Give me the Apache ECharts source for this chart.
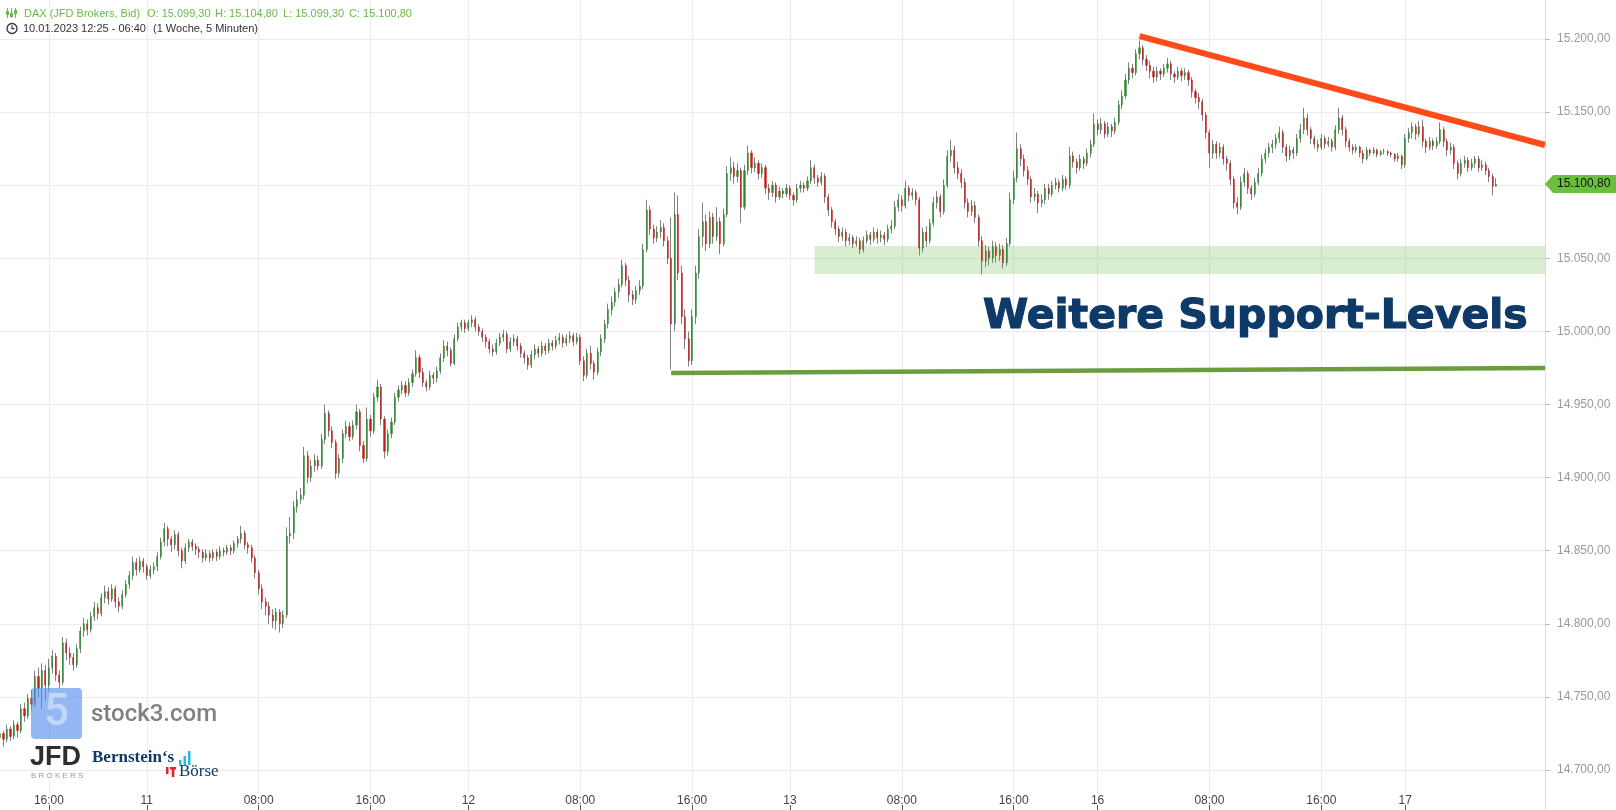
<!DOCTYPE html>
<html><head><meta charset="utf-8">
<script src="https://cdn.jsdelivr.net/npm/echarts@6/dist/echarts.min.js"></script>
<style>html,body{margin:0;padding:0;background:#fff}#c{width:1616px;height:810px}</style>
</head><body><div id="c"></div>
<script>
// ---- DATA (15-minute candles [open, close, low, high]) ----
const day10 = [
[14722,14725,14718,14728],[14725,14721,14716,14727],[14721,14728,14719,14731],[14728,14723,14720,14730],[14723,14731,14721,14734],
[14731,14727,14722,14733],[14727,14742,14725,14745],[14742,14737,14733,14746],[14737,14749,14735,14752],[14749,14745,14741,14755],
[14745,14764,14743,14768],[14764,14756,14750,14770],[14756,14768,14742,14773],[14768,14758,14748,14772],[14758,14770,14754,14776],
[14770,14778,14766,14782],[14778,14765,14761,14780],[14765,14760,14756,14768],[14760,14787,14758,14791],[14787,14780,14775,14790],
[14780,14777,14772,14784],[14777,14772,14768,14780],[14772,14783,14770,14786],[14783,14795,14780,14798],[14795,14800,14791,14804],
[14800,14796,14792,14803],[14796,14805,14794,14808],[14805,14811,14802,14815],[14811,14807,14803,14814],[14807,14818,14805,14821],
[14818,14822,14814,14826],[14822,14817,14813,14825],[14817,14824,14815,14827],[14824,14815,14811,14826],[14815,14812,14808,14818],
[14812,14820,14810,14823],[14820,14827,14818,14830],[14827,14833,14824,14836],[14833,14842,14830,14846],[14842,14837,14833,14845],
[14837,14843,14835,14846],[14843,14839,14835,14845]
];
const day11 = [
[14839,14833,14830,14841],[14833,14837,14831,14840],[14837,14839,14834,14842],[14839,14846,14836,14849],[14846,14856,14844,14859],
[14856,14865,14853,14869],[14865,14858,14853,14867],[14858,14854,14849,14860],[14854,14861,14851,14864],[14861,14850,14846,14863],
[14850,14843,14838,14852],[14843,14852,14841,14855],[14852,14856,14849,14858],[14856,14853,14850,14858],[14853,14851,14847,14855],
[14851,14849,14845,14853],[14849,14845,14842,14851],[14845,14848,14843,14851],[14848,14845,14842,14850],[14845,14849,14843,14851],
[14849,14846,14843,14851],[14846,14850,14844,14853],[14850,14849,14846,14852],[14849,14852,14847,14854],[14852,14850,14847,14854],
[14850,14855,14848,14857],[14855,14858,14852,14860],[14858,14862,14855,14867],[14862,14854,14851,14864],[14854,14852,14848,14856],
[14852,14845,14842,14854],[14845,14835,14831,14847],[14835,14824,14820,14837],[14824,14815,14810,14827],[14815,14812,14806,14818],
[14812,14806,14800,14815],[14806,14802,14797,14810],[14802,14808,14796,14811],[14808,14800,14794,14810],[14800,14806,14797,14809],
[14806,14860,14804,14866],[14860,14862,14855,14873],[14862,14880,14858,14884],[14880,14885,14876,14891],[14885,14888,14882,14893],
[14888,14915,14885,14921],[14915,14900,14896,14918],[14900,14908,14897,14912],[14908,14912,14904,14916],[14912,14908,14905,14915],
[14908,14926,14906,14930],[14926,14944,14923,14950],[14944,14932,14928,14946],[14932,14924,14920,14935],[14924,14903,14899,14926],
[14903,14913,14900,14916],[14913,14930,14910,14933],[14930,14935,14927,14939],[14935,14928,14925,14938],[14928,14936,14926,14939],
[14936,14945,14933,14950],[14945,14922,14918,14947],[14922,14913,14910,14925],[14913,14940,14911,14948],[14940,14932,14928,14943],
[14932,14955,14930,14958],[14955,14962,14952,14967],[14962,14940,14936,14964],[14940,14918,14913,14942],[14918,14930,14915,14933],
[14930,14938,14927,14941],[14938,14955,14936,14958],[14955,14960,14952,14963],[14960,14963,14957,14966],[14963,14958,14955,14966],
[14958,14965,14956,14968],[14965,14971,14962,14974],[14971,14982,14969,14987],[14982,14972,14968,14984],[14972,14965,14962,14975],
[14965,14962,14959,14967],[14962,14970,14960,14973],[14970,14968,14964,14972],[14968,14973,14965,14976],[14973,14982,14971,14985],
[14982,14990,14979,14994],[14990,14987,14983,14993],[14987,14978,14976,14989],[14978,14995,14977,14998],[14995,15003,14993,15006],
[15003,15006,15000,15008],[15006,15002,14999,15008]
];
const day12 = [
[15002,15006,15000,15008],[15006,15008,15003,15011],[15008,15003,15000,15010],[15003,15000,14997,15005],[15000,14996,14993,15002],
[14996,14993,14989,14998],[14993,14988,14985,14995],[14988,14986,14983,14991],[14986,14992,14984,14995],[14992,14996,14990,14999],
[14996,14998,14993,15001],[14998,14988,14985,15000],[14988,14993,14986,14996],[14993,14995,14990,14998],[14995,14990,14987,14997],
[14990,14985,14982,14992],[14985,14982,14978,14987],[14982,14977,14974,14984],[14977,14984,14975,14987],[14984,14988,14981,14991],
[14988,14985,14982,14990],[14985,14990,14983,14993],[14990,14987,14984,14992],[14987,14992,14985,14995],[14992,14990,14987,14994],
[14990,14994,14988,14997],[14994,14996,14991,14999],[14996,14992,14989,14998],[14992,14995,14990,14998],[14995,14997,14992,15000],
[14997,14993,14990,14999],[14993,14996,14991,14999],[14996,14980,14977,14998],[14980,14970,14966,14983],[14970,14985,14968,14988],
[14985,14978,14974,14990],[14978,14972,14967,14980],[14972,14986,14970,14989],[14986,14995,14983,14998],[14995,15005,14992,15008],
[15005,15015,15002,15019],[15015,15020,15011,15024],[15020,15027,15017,15030],[15027,15032,15023,15036],[15032,15045,15030,15049],
[15045,15035,15031,15047],[15035,15025,15020,15038],[15025,15022,15018,15028],[15022,15028,15019,15031],[15028,15031,15025,15035],
[15031,15056,15029,15060],[15056,15083,15054,15090],[15083,15070,15066,15086],[15070,15064,15060,15073],[15064,15068,15061,15072],
[15068,15071,15064,15076],[15071,15062,15058,15074],[15062,15050,15046,15065],[15050,15005,14974,15078],[15005,15080,15000,15095],
[15080,15040,15035,15093],[15040,15010,15005,15045],[15010,14995,14988,15015],[14995,14980,14976,15000],[14980,15010,14977,15015],
[15010,15040,15005,15045],[15040,15065,15036,15070],[15065,15075,15058,15088],[15075,15060,15055,15080],[15060,15078,15057,15082],
[15078,15065,15060,15081],[15065,15075,15062,15085],[15075,15060,15053,15078],[15060,15080,15058,15084],[15080,15108,15078,15113],
[15108,15112,15103,15119],[15112,15106,15101,15116],[15106,15110,15102,15115],[15110,15085,15074,15112],[15085,15110,15083,15114],
[15110,15122,15107,15127],[15122,15112,15108,15124],[15112,15115,15109,15119],[15115,15108,15104,15117],[15108,15112,15105,15115],
[15112,15098,15094,15114],[15098,15095,15090,15101],[15095,15100,15092,15103],[15100,15092,15088,15102],[15092,15096,15090,15099],
[15096,15094,15091,15098],[15094,15098,15092,15101]
];
const day13 = [
[15098,15093,15090,15100],[15093,15090,15086,15095],[15090,15098,15088,15101],[15098,15100,15095,15103],[15100,15098,15095,15102],
[15098,15103,15096,15106],[15103,15112,15101,15117],[15112,15105,15101,15114],[15105,15102,15099,15107],[15102,15106,15100,15109],
[15106,15092,15088,15108],[15092,15083,15079,15094],[15083,15075,15071,15085],[15075,15070,15066,15077],[15070,15065,15061,15072],
[15065,15068,15062,15071],[15068,15062,15058,15070],[15062,15064,15059,15067],[15064,15060,15057,15066],[15060,15062,15058,15065],
[15062,15056,15053,15064],[15056,15062,15054,15065],[15062,15066,15060,15069],[15066,15063,15059,15068],[15063,15068,15061,15071],
[15068,15064,15060,15070],[15064,15066,15061,15069],[15066,15063,15059,15068],[15063,15070,15061,15073],[15070,15072,15067,15076],
[15072,15085,15070,15089],[15085,15090,15082,15094],[15090,15086,15082,15093],[15086,15098,15084,15103],[15098,15093,15089,15100],
[15093,15095,15090,15098],[15095,15090,15086,15097],[15090,15057,15052,15092],[15057,15068,15054,15071],[15068,15062,15058,15072],
[15062,15074,15060,15077],[15074,15088,15072,15092],[15088,15092,15084,15096],[15092,15082,15078,15094],[15082,15100,15080,15104],
[15100,15120,15098,15124],[15120,15124,15116,15131],[15124,15112,15108,15127],[15112,15108,15104,15116],[15108,15102,15098,15111],
[15102,15088,15084,15105],[15088,15082,15078,15091],[15082,15086,15079,15090],[15086,15078,15074,15089],[15078,15062,15058,15080],
[15062,15048,15039,15065],[15048,15055,15044,15059],[15055,15050,15045,15058],[15050,15058,15047,15062],[15058,15052,15047,15061],
[15052,15056,15048,15060],[15056,15047,15043,15059],[15047,15060,15045,15064],[15060,15090,15058,15095],[15090,15105,15087,15110],
[15105,15125,15102,15136],[15125,15118,15113,15128],[15118,15110,15106,15121],[15110,15104,15100,15113],[15104,15092,15088,15106],
[15092,15094,15089,15098],[15094,15088,15081,15096],[15088,15090,15085,15094],[15090,15098,15087,15101],[15098,15094,15090,15101],
[15094,15100,15092,15103],[15100,15102,15097,15105],[15102,15098,15095,15104],[15098,15104,15096,15107],[15104,15100,15097,15106],
[15100,15120,15098,15126],[15120,15116,15112,15123],[15116,15112,15108,15118],[15112,15118,15110,15121],[15118,15115,15111,15120],
[15115,15122,15113,15125],[15122,15128,15119,15131],[15128,15142,15126,15149]
];
const day16 = [
[15142,15138,15134,15145],[15138,15142,15135,15146],[15142,15135,15132,15144],[15135,15140,15133,15143],[15140,15137,15133,15142],
[15137,15143,15135,15146],[15143,15155,15141,15158],[15155,15161,15152,15165],[15161,15172,15159,15176],[15172,15180,15169,15184],
[15180,15177,15173,15183],[15177,15190,15175,15193],[15190,15194,15186,15199],[15194,15186,15182,15196],[15186,15182,15178,15189],
[15182,15178,15173,15185],[15178,15174,15170,15181],[15174,15178,15171,15181],[15178,15176,15172,15180],[15176,15180,15174,15183],
[15180,15183,15177,15187],[15183,15176,15172,15185],[15176,15174,15170,15178],[15174,15178,15172,15181],[15178,15175,15171,15180],
[15175,15177,15172,15180],[15177,15172,15168,15179],[15172,15164,15160,15174],[15164,15160,15156,15166],[15160,15157,15152,15163],
[15157,15148,15144,15159],[15148,15136,15132,15150],[15136,15122,15112,15138],[15122,15128,15118,15131],[15128,15122,15118,15130],
[15122,15126,15119,15129],[15126,15118,15114,15128],[15118,15115,15110,15120],[15115,15104,15100,15117],[15104,15088,15084,15106],
[15088,15085,15080,15092],[15085,15102,15083,15106],[15102,15108,15099,15112],[15108,15098,15094,15110],[15098,15094,15090,15100],
[15094,15102,15092,15105],[15102,15108,15100,15112],[15108,15118,15106,15121],[15118,15122,15115,15125],[15122,15126,15119,15129],
[15126,15128,15122,15131],[15128,15132,15125,15135],[15132,15136,15129,15140],[15136,15126,15122,15138],[15126,15120,15116,15128],
[15120,15124,15117,15127],[15124,15122,15118,15126],[15122,15132,15120,15135],[15132,15138,15129,15142],[15138,15146,15135,15153],
[15146,15138,15134,15149],[15138,15132,15128,15140],[15132,15128,15125,15134],[15128,15126,15123,15131],[15126,15132,15124,15135],
[15132,15128,15125,15134],[15128,15130,15126,15133],[15130,15126,15123,15132],[15126,15138,15124,15141],[15138,15146,15135,15153],
[15146,15138,15134,15148],[15138,15130,15126,15140],[15130,15126,15123,15132],[15126,15124,15121,15128],[15124,15126,15122,15128],
[15126,15122,15119,15127],[15122,15118,15115,15124],[15118,15124,15117,15126],[15124,15122,15120,15125],[15122,15124,15121,15126],
[15124,15121,15119,15125],[15121,15123,15120,15124],[15123,15123,15121,15125],[15123,15122,15120,15124],[15122,15121,15119,15123],
[15121,15118,15116,15122],[15118,15120,15116,15122],[15120,15114,15111,15121]
];
const day17 = [
[15114,15132,15112,15135],[15132,15136,15129,15139],[15136,15140,15132,15143],[15140,15135,15131,15142],[15135,15140,15133,15144],
[15140,15130,15126,15145],[15130,15126,15122,15132],[15126,15130,15124,15133],[15130,15127,15124,15132],[15127,15130,15125,15133],
[15130,15138,15128,15143],[15138,15130,15126,15140],[15130,15124,15120,15132],[15124,15126,15121,15129],[15126,15115,15111,15128],
[15115,15108,15104,15117],[15108,15115,15106,15118],[15115,15117,15112,15120],[15117,15112,15109,15119],[15112,15115,15110,15118],
[15115,15118,15112,15120],[15118,15112,15109,15120],[15112,15114,15110,15117],[15114,15110,15107,15116],[15110,15106,15102,15112],
[15106,15099.3,15093,15108],[15099.3,15100.8,15099.3,15104.8]
];
// trading sessions: [date, start minute, number of 15-min slots]
const sessions = [['10.01.',750,42],['11.01.',0,92],['12.01.',0,92],['13.01.',0,88],['16.01.',0,88],['17.01.',0,41]];
const tickIdx = [14,42,74,106,134,166,198,226,258,290,314,346,378,402];
const tickLabels = ['16:00','11','08:00','16:00','12','08:00','16:00','13','08:00','16:00','16','08:00','16:00','17'];
const resistanceIdx = [326, 442], resistanceVal = [15202, 15127.5];
const supportIdx = [192, 442], supportVal = [14971.6, 14975];
const zoneIdx = [233, 442], zoneVal = [15039.3, 15058.4];
const yRange = [14684.27, 15226.68];

// ---- BUILD ----
const categories = [];
sessions.forEach(([d, st, n]) => {
  for (let k = 0; k < n; k++) {
    const m = st + 15 * k;
    categories.push(d + ' ' + String(Math.floor(m / 60)).padStart(2, '0') + ':' + String(m % 60).padStart(2, '0'));
  }
});
const candles = day10.concat(day11, day12, day13, day16, day17);
const bodies = candles.map(d => [d[0], d[1], Math.min(d[0], d[1]), Math.max(d[0], d[1])]);
const last = candles[candles.length - 1];
const fmt = v => { const s = Math.abs(v).toFixed(2).split('.'); return s[0].replace(/\B(?=(\d{3})+(?!\d))/g, '.') + ',' + s[1]; };
const isTick = i => tickIdx.indexOf(i) >= 0;
const FF = '"Liberation Sans", Arial, sans-serif';
const hdrGreen = '#6cb947';

const chart = echarts.init(document.getElementById('c'));
chart.setOption({
  animation: false,
  backgroundColor: '#ffffff',
  textStyle: { fontFamily: FF },
  grid: [{ left: 0, right: 71, top: 0, bottom: 17 }, { left: 0, right: 71, top: 805, bottom: 0 }],
  xAxis: [
    { type: 'category', gridIndex: 0, data: categories, boundaryGap: false,
      axisLine: { show: false }, axisTick: { show: false },
      axisLabel: { interval: (i) => isTick(i), formatter: (v, i) => tickLabels[tickIdx.indexOf(i)], color: '#444', fontSize: 12, margin: 2 },
      splitLine: { show: true, interval: (i) => isTick(i), lineStyle: { color: '#ebebeb', width: 1 } } },
    { type: 'category', gridIndex: 1, data: categories, boundaryGap: false,
      axisLine: { show: false }, axisLabel: { show: false }, splitLine: { show: false },
      axisTick: { show: true, inside: true, length: 5, interval: (i) => isTick(i), lineStyle: { color: '#555' } } }
  ],
  yAxis: [
    { type: 'value', gridIndex: 0, position: 'right', min: yRange[0], max: yRange[1], splitNumber: 11, minInterval: 50, maxInterval: 50,
      axisLine: { show: true, lineStyle: { color: '#dcdcdc' } },
      axisTick: { show: true, length: 5, lineStyle: { color: '#bbb' } },
      axisLabel: { color: '#999', fontSize: 12, margin: 12, formatter: fmt, showMinLabel: false, showMaxLabel: false },
      splitLine: { show: true, showMinLine: false, showMaxLine: false, lineStyle: { color: '#ebebeb' } } },
    { type: 'value', gridIndex: 1, show: false }
  ],
  series: [
    { type: 'candlestick', name: 'wicks', xAxisIndex: 0, yAxisIndex: 0, data: candles, barWidth: 1, silent: true, z: 2,
      itemStyle: { color: '#808080', color0: '#808080', borderColor: '#808080', borderColor0: '#808080', borderWidth: 1 } },
    { type: 'candlestick', name: 'DAX', xAxisIndex: 0, yAxisIndex: 0, data: bodies, barWidth: 1.6, z: 3,
      itemStyle: { color: '#2a8a2a', color0: '#c41a1a', borderColor: '#2a8a2a', borderColor0: '#c41a1a', borderWidth: 0.4 } },
    { type: 'line', name: 'support', xAxisIndex: 0, yAxisIndex: 0, symbol: 'none', z: 4,
      data: supportIdx.map((x, k) => [categories[x], supportVal[k]]),
      lineStyle: { color: '#6b9c3d', width: 4.5 },
      markArea: { silent: true, itemStyle: { color: 'rgba(120,190,90,0.28)' },
        data: [[{ xAxis: categories[zoneIdx[0]], yAxis: zoneVal[0] }, { xAxis: categories[zoneIdx[1]], yAxis: zoneVal[1] }]] } },
    { type: 'line', name: 'resistance', xAxisIndex: 0, yAxisIndex: 0, symbol: 'none', z: 5,
      data: resistanceIdx.map((x, k) => [categories[x], resistanceVal[k]]),
      lineStyle: { color: '#ff4a1a', width: 6 } }
  ]
});

function txt(x, y, text, font, fill, align) {
  return { type: 'text', x: x, y: y, z: 100,
    style: { text: text, font: font, fill: fill, align: align || 'left', textAlign: align || 'left', verticalAlign: 'middle', textVerticalAlign: 'middle' } };
}
const G = [];
// header candle icon
[[7.5, 11, 4], [11.5, 13, 4], [15.5, 10, 4]].forEach(([x, y, h]) => {
  G.push({ type: 'line', z: 100, shape: { x1: x, y1: 8, x2: x, y2: 18 }, style: { stroke: hdrGreen, lineWidth: 1 } });
  G.push({ type: 'rect', z: 100, shape: { x: x - 1.5, y: y, width: 3, height: h }, style: { fill: hdrGreen } });
});
G.push(txt(24, 13.5, 'DAX (JFD Brokers, Bid)', '11px ' + FF, hdrGreen));
G.push(txt(147, 13.5, 'O: ' + fmt(last[0]), '11px ' + FF, hdrGreen));
G.push(txt(215, 13.5, 'H: ' + fmt(last[3]), '11px ' + FF, hdrGreen));
G.push(txt(283, 13.5, 'L: ' + fmt(last[2]), '11px ' + FF, hdrGreen));
G.push(txt(349, 13.5, 'C: ' + fmt(last[1]), '11px ' + FF, hdrGreen));
// clock icon
G.push({ type: 'circle', z: 100, shape: { cx: 12, cy: 28.5, r: 5 }, style: { stroke: '#333', fill: 'none', lineWidth: 1.3 } });
G.push({ type: 'polyline', z: 100, shape: { points: [[12, 25.5], [12, 28.7], [14.5, 28.7]] }, style: { stroke: '#333', fill: 'none', lineWidth: 1.2 } });
G.push(txt(23, 28.7, '10.01.2023 12:25 - 06:40', '11px ' + FF, '#333'));
G.push(txt(153, 28.7, '(1 Woche, 5 Minuten)', '11px ' + FF, '#333'));
// annotation text
const ann = txt(983, 317, 'Weitere Support-Levels', 'bold 41px "DejaVu Sans"', '#0d3a69');
ann.style.stroke = '#0d3a69'; ann.style.lineWidth = 1.2;
G.push(ann);
// stock3 logo
G.push({ type: 'rect', z: 100, shape: { x: 31, y: 688, width: 51, height: 51, r: 4 }, style: { fill: 'rgba(80,140,235,0.62)' } });
G.push({ type: 'text', z: 101, x: 56.5, y: 714, style: { text: '5', font: '500 44px Roboto', fill: 'rgba(255,255,255,0.45)', align: 'center', textAlign: 'center', verticalAlign: 'middle', textVerticalAlign: 'middle' } });
G.push(txt(91, 715, 'stock3.com', '500 24px Roboto', '#808080'));
// JFD logo
G.push(txt(30, 758, 'JFD', 'bold 27px ' + FF, '#2e2e2e'));
G.push(txt(31, 776, 'B R O K E R S', '8px ' + FF, '#9a9a9a'));
// Bernstein's Börse logo
G.push(txt(92, 758, 'Bernstein\u2018s', 'bold 17px "Liberation Serif"', '#0d3a66'));
[[179, 5], [183.5, 9], [188, 14]].forEach(([x, h]) => G.push({ type: 'rect', z: 100, shape: { x: x, y: 765 - h, width: 2.5, height: h }, style: { fill: '#29b6e8' } }));
G.push(txt(179, 771.5, 'B\u00f6rse', '17px "Liberation Serif"', '#0d3a66'));
G.push({ type: 'rect', z: 100, shape: { x: 166, y: 767, width: 2.5, height: 7 }, style: { fill: '#e8202a' } });
G.push({ type: 'rect', z: 100, shape: { x: 170, y: 767, width: 6, height: 2.5 }, style: { fill: '#e8202a' } });
G.push({ type: 'rect', z: 100, shape: { x: 171.8, y: 767, width: 2.5, height: 10 }, style: { fill: '#e8202a' } });
// axis line extension
G.push({ type: 'line', z: 100, shape: { x1: 1545.5, y1: 793, x2: 1545.5, y2: 810 }, style: { stroke: '#dcdcdc', lineWidth: 1 } });
// last price tag
const yTag = chart.convertToPixel({ yAxisIndex: 0 }, last[1]);
G.push({ type: 'polygon', z: 110, shape: { points: [[1545, yTag], [1553, yTag - 9], [1616, yTag - 9], [1616, yTag + 9], [1553, yTag + 9]] }, style: { fill: '#6bbf3e' } });
G.push(Object.assign(txt(1557, yTag, fmt(last[1]), '12px ' + FF, '#111'), { z: 111 }));
chart.setOption({ graphic: G });
</script>
</body></html>
